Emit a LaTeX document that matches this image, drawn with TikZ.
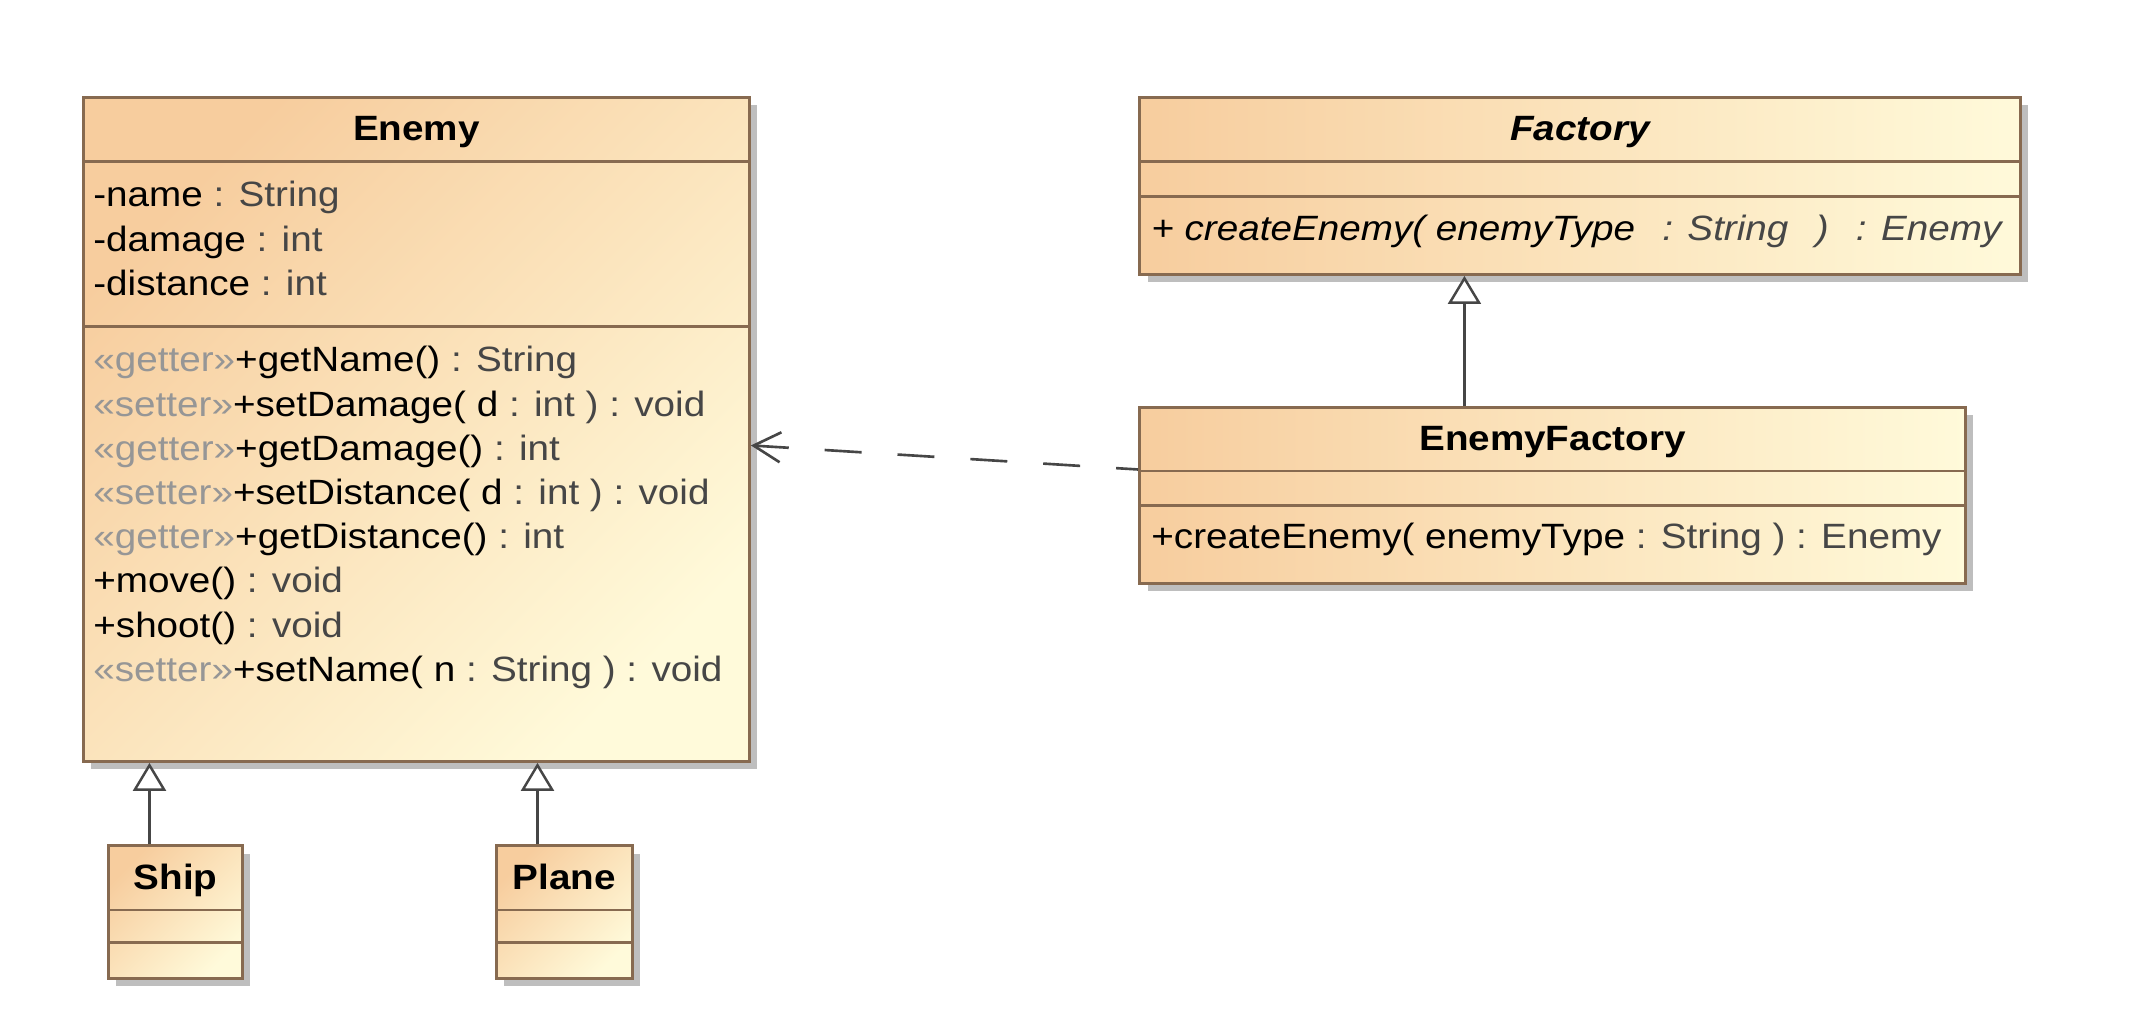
\documentclass[tikz,border=0pt]{standalone}
\usepackage{fontspec}
\setmainfont{Liberation Sans}[FakeStretch=1.1]
\usetikzlibrary{arrows.meta,shadows,positioning}

\definecolor{umlpeach}{RGB}{247,205,158}
\definecolor{umlcream}{RGB}{255,250,218}
\definecolor{umlborder}{RGB}{135,106,80}
\definecolor{umlshadow}{RGB}{190,190,190}
\definecolor{stereogray}{RGB}{150,150,150}
\definecolor{typegray}{RGB}{70,70,70}
\definecolor{linkgray}{RGB}{70,70,70}

\newcommand{\ster}[1]{\textcolor{stereogray}{«#1»}}
\newcommand{\ty}[1]{\textcolor{typegray}{#1}}

\tikzset{
  classbox/.style={rectangle, draw=umlborder, line width=1.7pt, anchor=north west, inner sep=0pt,
    left color=umlpeach, right color=umlcream,
    drop shadow={shadow xshift=0.16cm, shadow yshift=-0.16cm, fill=umlshadow, opacity=1}},
  diagshade/.style={shading angle=45},
  sepline/.style={draw=umlborder, line width=1.7pt},
  classtitle/.style={anchor=base, inner sep=0pt, font=\bfseries\fontsize{20}{24}\selectfont},
  member/.style={anchor=base west, inner sep=0pt, font=\fontsize{20}{24}\selectfont},
  generalize/.style={draw=linkgray, line width=1.4pt, -{Triangle[fill=white, length=0.56cm, width=0.66cm]}},
  depend/.style={draw=linkgray, line width=1.5pt, dash pattern=on 0.74cm off 0.72cm, dash phase=0.3cm,
    -{Straight Barb[length=0.54cm, width=0.6cm]}}
}

\begin{document}
\begin{tikzpicture}[x=0.02cm, y=-0.02cm]
  \useasboundingbox (0,0) rectangle (2154,1028);

  % class boxes
  \node[classbox, diagshade, minimum width=13.32cm, minimum height=13.28cm] (enemy) at (82,96) {};
  \node[classbox, diagshade, minimum width=2.68cm, minimum height=2.66cm] (ship) at (107,844) {};
  \node[classbox, diagshade, minimum width=2.72cm, minimum height=2.66cm] (plane) at (495,844) {};
  \node[classbox, minimum width=17.62cm, minimum height=3.54cm] (factory) at (1138,96) {};
  \node[classbox, minimum width=16.52cm, minimum height=3.52cm] (enemyfactory) at (1138,406) {};

  % compartments
  \draw[sepline] ([yshift=-1.32cm]enemy.north west) -- ([yshift=-1.32cm]enemy.north east);
  \draw[sepline] ([yshift=-4.62cm]enemy.north west) -- ([yshift=-4.62cm]enemy.north east);
  \foreach \cls in {ship, plane} {
    \draw[sepline] ([yshift=-1.32cm]\cls.north west) -- ([yshift=-1.32cm]\cls.north east);
    \draw[sepline] ([yshift=-1.98cm]\cls.north west) -- ([yshift=-1.98cm]\cls.north east);
  }
  \draw[sepline] ([yshift=-1.32cm]factory.north west) -- ([yshift=-1.32cm]factory.north east);
  \draw[sepline] ([yshift=-2.02cm]factory.north west) -- ([yshift=-2.02cm]factory.north east);
  \draw[sepline] ([yshift=-1.30cm]enemyfactory.north west) -- ([yshift=-1.30cm]enemyfactory.north east);
  \draw[sepline] ([yshift=-2.00cm]enemyfactory.north west) -- ([yshift=-2.00cm]enemyfactory.north east);

  % titles
  \node[classtitle] (enemytitle) at ([yshift=-0.9cm]enemy.north) {Enemy};
  \node[classtitle] (shiptitle) at ([yshift=-0.9cm]ship.north) {Ship};
  \node[classtitle] (planetitle) at ([yshift=-0.9cm]plane.north) {Plane};
  \node[classtitle, font=\bfseries\itshape\fontsize{20}{24}\selectfont] (factorytitle) at ([yshift=-0.9cm]factory.north) {Factory};
  \node[classtitle] (enemyfactorytitle) at ([yshift=-0.9cm]enemyfactory.north) {EnemyFactory};

  % members
  \foreach \txt [count=\i] in {{-name \ty{: String}}, {-damage \ty{: int}}, {-distance \ty{: int}}}
    \node[member] (attr\i) at ([xshift=0.22cm, yshift={-2.22cm-(\i-1)*0.884cm}]enemy.north west) {\txt};
  \foreach \txt [count=\i] in {
      {\ster{getter}+getName() \ty{: String}},
      {\ster{setter}+setDamage( d \ty{: int ) : void}},
      {\ster{getter}+getDamage() \ty{: int}},
      {\ster{setter}+setDistance( d \ty{: int ) : void}},
      {\ster{getter}+getDistance() \ty{: int}},
      {+move() \ty{: void}},
      {+shoot() \ty{: void}},
      {\ster{setter}+setName( n \ty{: String ) : void}}}
    \node[member] (op\i) at ([xshift=0.22cm, yshift={-5.52cm-(\i-1)*0.884cm}]enemy.north west) {\txt};
  \node[member, font=\itshape\fontsize{20}{24}\selectfont] (factoryop) at ([xshift=0.26cm, yshift=-2.9cm]factory.north west)
    {+ createEnemy( enemyType \ty{\, : String \, ) \, : Enemy}};
  \node[member] (enemyfactoryop) at ([xshift=0.26cm, yshift=-2.86cm]enemyfactory.north west)
    {+createEnemy( enemyType \ty{: String ) : Enemy}};

  % relations
  \draw[generalize] ([xshift=-0.52cm]ship.north) coordinate (shiptop) -- (shiptop |- enemy.south);
  \draw[generalize] ([xshift=-0.54cm]plane.north) coordinate (planetop) -- (planetop |- enemy.south);
  \draw[generalize] ([xshift=-1.76cm]enemyfactory.north) coordinate (eftop) -- (eftop |- factory.south);
  \draw[depend] ([yshift=0.52cm]enemyfactory.west) -- ([yshift=-0.32cm]enemy.east);
\end{tikzpicture}
\end{document}
